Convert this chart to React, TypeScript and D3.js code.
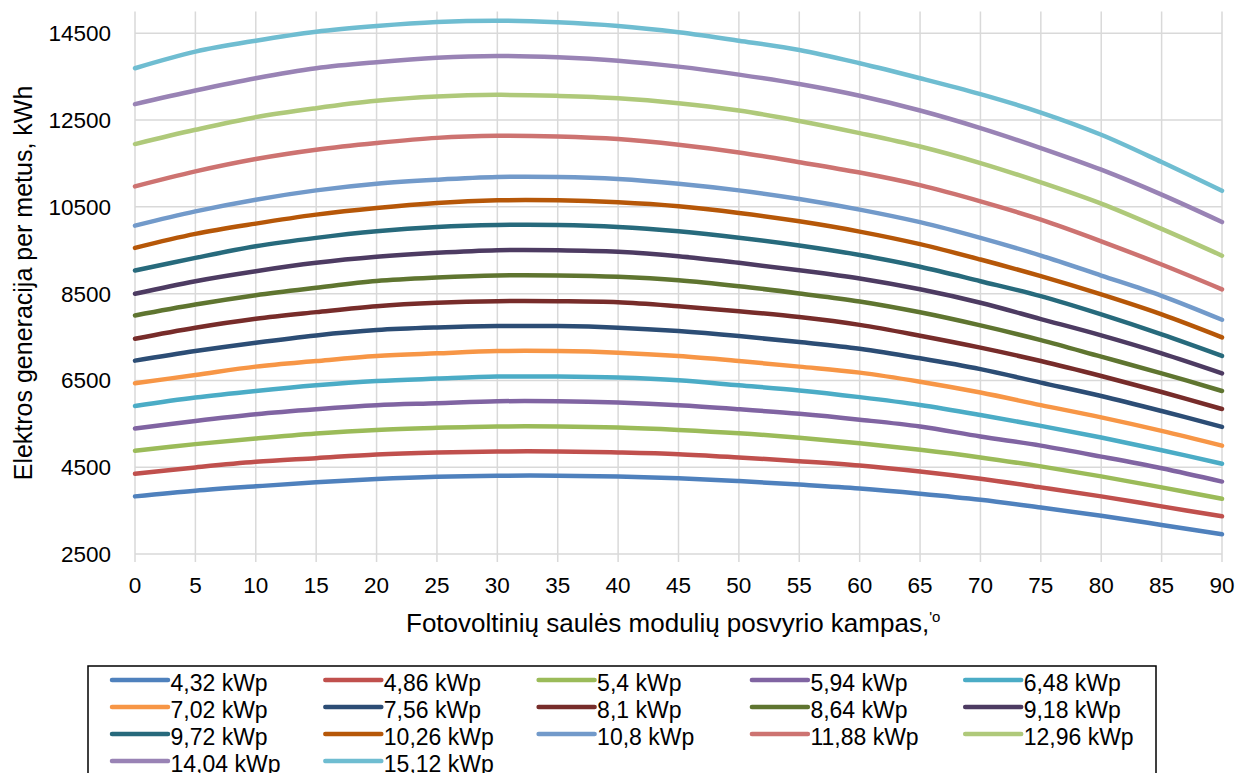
import React from "react";
import * as d3 from "d3";

const angles = [0, 5, 10, 15, 20, 25, 30, 35, 40, 45, 50, 55, 60, 65, 70, 75, 80, 85, 90];
const yTicks = [2500, 4500, 6500, 8500, 10500, 12500, 14500];

const seriesNames = [
  "4,32 kWp", "4,86 kWp", "5,4 kWp", "5,94 kWp", "6,48 kWp",
  "7,02 kWp", "7,56 kWp", "8,1 kWp", "8,64 kWp", "9,18 kWp",
  "9,72 kWp", "10,26 kWp", "10,8 kWp", "11,88 kWp", "12,96 kWp",
  "14,04 kWp", "15,12 kWp",
];
const seriesColors = [
  "#4F81BD", "#C0504D", "#9BBB59", "#8064A2", "#4BACC6",
  "#F79646", "#2C4D75", "#772C2A", "#5F7530", "#4D3B62",
  "#276A7C", "#B65708", "#729ACA", "#CD7371", "#AFC97A",
  "#9983B5", "#6FBDD1",
];

const s432 = [3828, 3958, 4059, 4151, 4227, 4280, 4304, 4304, 4285, 4245, 4180, 4100, 4010, 3890, 3750, 3570, 3380, 3170, 2955];
const s486 = [4348, 4495, 4624, 4709, 4794, 4840, 4863, 4863, 4840, 4801, 4726, 4640, 4540, 4402, 4234, 4035, 3828, 3598, 3368];
const s540 = [4877, 5032, 5162, 5277, 5360, 5407, 5438, 5438, 5415, 5360, 5284, 5180, 5050, 4901, 4726, 4519, 4289, 4035, 3772];
const s594 = [5392, 5567, 5721, 5836, 5928, 5974, 6020, 6020, 5989, 5928, 5836, 5730, 5595, 5438, 5208, 4997, 4744, 4476, 4169];
const s648 = [5912, 6105, 6257, 6388, 6487, 6542, 6588, 6588, 6565, 6503, 6388, 6270, 6115, 5935, 5705, 5453, 5185, 4892, 4581];
const s702 = [6434, 6625, 6818, 6947, 7062, 7124, 7177, 7177, 7140, 7062, 6947, 6818, 6680, 6470, 6220, 5931, 5648, 5337, 4997];
const s756 = [6956, 7177, 7370, 7538, 7660, 7720, 7752, 7752, 7715, 7637, 7522, 7384, 7230, 7010, 6760, 6450, 6142, 5795, 5429];
const s810 = [7462, 7715, 7922, 8074, 8212, 8290, 8327, 8327, 8304, 8212, 8097, 7960, 7780, 7530, 7255, 6947, 6602, 6234, 5842];
const s864 = [7998, 8249, 8465, 8635, 8790, 8870, 8918, 8918, 8888, 8810, 8672, 8504, 8320, 8070, 7768, 7430, 7048, 6664, 6257];
const s918 = [8497, 8787, 9017, 9210, 9348, 9440, 9500, 9500, 9463, 9362, 9210, 9040, 8850, 8600, 8290, 7914, 7538, 7124, 6664];
const s972 = [9033, 9325, 9592, 9785, 9937, 10038, 10084, 10084, 10038, 9937, 9790, 9610, 9390, 9120, 8787, 8442, 8021, 7561, 7065];
const s1026 = [9555, 9877, 10114, 10321, 10475, 10590, 10650, 10650, 10604, 10512, 10360, 10167, 9930, 9640, 9286, 8902, 8481, 8021, 7492];
const s1080 = [10068, 10397, 10666, 10880, 11034, 11126, 11188, 11188, 11142, 11034, 10880, 10682, 10437, 10147, 9785, 9378, 8918, 8450, 7898];
const s1188 = [10972, 11317, 11602, 11816, 11970, 12090, 12138, 12122, 12062, 11931, 11754, 11530, 11290, 11000, 10627, 10206, 9707, 9171, 8600];
const s1296 = [11947, 12276, 12568, 12775, 12943, 13042, 13081, 13058, 13005, 12890, 12720, 12480, 12200, 11892, 11510, 11064, 10574, 9992, 9375];
const s1404 = [12867, 13180, 13465, 13695, 13833, 13935, 13978, 13948, 13870, 13732, 13548, 13330, 13060, 12720, 12315, 11855, 11356, 10781, 10150];
const s1512 = [13695, 14077, 14330, 14537, 14668, 14760, 14790, 14753, 14668, 14523, 14330, 14116, 13810, 13465, 13097, 12674, 12162, 11533, 10870];

const seriesValues = [s432, s486, s540, s594, s648, s702, s756, s810, s864, s918, s972, s1026, s1080, s1188, s1296, s1404, s1512];

const FONT = "'Liberation Sans', Arial, sans-serif";

export default function App() {
  const W = 1248, H = 773;
  const x = d3.scaleLinear().domain([0, 90]).range([135, 1222]);
  const y = d3.scaleLinear().domain([2500, 15000]).range([554, 11.6]);
  const line = d3
    .line<number>()
    .x((_, i) => x(angles[i]))
    .y((d) => y(d))
    .curve(d3.curveCatmullRom.alpha(0.5));

  const legendCols = 5;
  const legX0 = 112, legDx = 213.3, legY0 = 680, legDy = 27;

  return (
    <svg width={W} height={H} style={{ position: "absolute", left: 0, top: 0, background: "#fff" }} fontFamily={FONT}>
      <rect x={0} y={0} width={W} height={H} fill="#fff" />
      {yTicks.map((t) => (
        <line key={"gy" + t} x1={x(0)} x2={x(90)} y1={y(t)} y2={y(t)} stroke="#d9d9d9" strokeWidth={1.5} />
      ))}
      {angles.map((a) => (
        <line key={"gx" + a} x1={x(a)} x2={x(a)} y1={y(15000)} y2={y(2500) + 8} stroke="#d9d9d9" strokeWidth={1.5} />
      ))}
      {yTicks.map((t) => (
        <text key={"ty" + t} x={111} y={y(t) + 8} textAnchor="end" fontSize={22.5} fill="#000">
          {t}
        </text>
      ))}
      {angles.map((a) => (
        <text key={"tx" + a} x={x(a)} y={593} textAnchor="middle" fontSize={22.5} fill="#000">
          {a}
        </text>
      ))}
      {seriesValues.map((vals, i) => (
        <path key={"s" + i} d={line(vals) || ""} fill="none" stroke={seriesColors[i]} strokeWidth={4.5} strokeLinejoin="round" strokeLinecap="round" />
      ))}
      <text transform="translate(32,283) rotate(-90)" textAnchor="middle" fontSize={25} fill="#000">
        Elektros generacija per metus, kWh
      </text>
      <text x={406} y={632} textAnchor="start" fontSize={26} fill="#000">
        Fotovoltinių saulės modulių posvyrio kampas,
        <tspan fontSize={15} dy={-10}>'o</tspan>
      </text>
      <rect x={88} y={666} width={1068} height={130} fill="#fff" stroke="#000" strokeWidth={1.5} />
      {seriesNames.map((name, i) => {
        const c = i % legendCols;
        const r = Math.floor(i / legendCols);
        const lx = legX0 + c * legDx;
        const ly = legY0 + r * legDy;
        return (
          <g key={"lg" + i}>
            <line x1={lx} x2={lx + 56} y1={ly} y2={ly} stroke={seriesColors[i]} strokeWidth={4.5} strokeLinecap="round" />
            <text x={lx + 58.5} y={ly + 10.5} fontSize={23} fill="#000">
              {name}
            </text>
          </g>
        );
      })}
    </svg>
  );
}
